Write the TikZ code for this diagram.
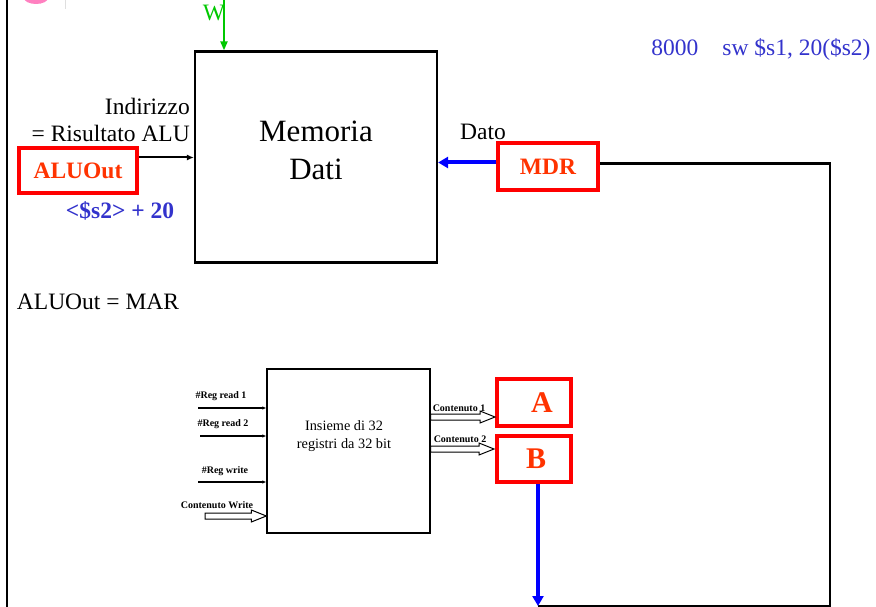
\documentclass[tikz,border=0pt]{standalone}
\usepackage{fontspec}
\setmainfont{Liberation Serif}
\usepackage{tikz}
\usetikzlibrary{arrows.meta, positioning, calc}
\definecolor{MDred}{HTML}{FF0000}
\definecolor{MDorange}{HTML}{FF3300}
\definecolor{MDblue}{HTML}{0000FF}
\definecolor{MDink}{HTML}{3333CC}
\definecolor{MDgreen}{HTML}{00C800}
\definecolor{MDpink}{HTML}{FF80C0}
\tikzset{
  memblk/.style={rectangle, draw=black, line width=2.2pt, fill=white, inner sep=0pt},
  regblk/.style={rectangle, draw=black, line width=1.4pt, fill=white, inner sep=0pt},
  redbox/.style={rectangle, draw=MDred, line width=3.5pt, fill=white, inner sep=0pt,
    text=MDorange, font=\fontsize{23.5}{26}\selectfont\bfseries},
  bigtxt/.style={inner sep=0pt, align=center, font=\fontsize{31}{38}\selectfont},
  txt/.style={inner sep=0pt, font=\fontsize{23.5}{27}\selectfont},
  bluetxt/.style={txt, text=MDink},
  regtxt/.style={inner sep=0pt, align=center, font=\fontsize{14.3}{18}\selectfont},
  smalltxt/.style={inner sep=0pt, font=\fontsize{10}{12}\selectfont\bfseries},
  lettxt/.style={inner sep=0pt, text=MDorange, font=\fontsize{30}{32}\selectfont\bfseries},
  wire/.style={line width=2.2pt, draw=black},
  blkarr/.style={-{Latex[length=7pt,width=6pt]}, line width=2pt, draw=black},
  bluearr/.style={-{Triangle[length=10pt,width=11pt]}, line width=4pt, draw=MDblue},
  grnarr/.style={-{Triangle[length=9pt,width=7pt]}, line width=2pt, draw=MDgreen},
  inarr/.style={-{Latex[length=4pt,width=3.5pt]}, line width=1.4pt, draw=black},
  hollowarr/.style={draw=black, line width=1pt, fill=white,
    to path={let \p1=(\tikztostart), \p2=(\tikztotarget) in
      (\x1,\y1+3pt) -- (\x2-15pt,\y1+3pt) -- (\x2-15pt,\y1+6pt) -- (\x2,\y1)
      -- (\x2-15pt,\y1-6pt) -- (\x2-15pt,\y1-3pt) -- (\x1,\y1-3pt) -- cycle}},
}
\begin{document}
\begin{tikzpicture}[x=1pt, y=-1pt]
  \useasboundingbox (0,0) rectangle (876,607);
  \begin{scope}
    \clip (0,0) rectangle (876,607);
    \fill[MDpink] (36,-2) ellipse [x radius=12pt, y radius=6pt];
  \end{scope}
  \draw[gray!25, line width=1pt] (65,0) -- (65,9);
  \draw[wire] (7,0) -- (7,607);

  \node[memblk, minimum width=242pt, minimum height=211pt] (mem) at (316,157) {};
  \node[bigtxt] (memtxt) at (316,150) {Memoria\\Dati};
  \node[txt, text=MDgreen] (wlbl) at (214,13) {W};
  \node[txt, align=right, anchor=east] (addr) at (190,120) {Indirizzo\\= Risultato ALU};
  \node[redbox, minimum width=118pt, minimum height=45pt] (aluout) at (78,170.5) {ALUOut};
  \node[bluetxt, font=\fontsize{23.5}{27}\selectfont\bfseries] (sum) at (120,211) {<\$s2> + 20};
  \node[txt] (dato) at (483,132) {Dato};
  \node[redbox, minimum width=100pt, minimum height=47pt] (mdr) at (548,166.5) {MDR};
  \node[bluetxt] (instr) at (761,49) {8000\hspace{24pt}sw \$s1, 20(\$s2)};
  \node[txt] (mar) at (98,302) {ALUOut = MAR};

  \node[regblk, minimum width=163pt, minimum height=164pt] (regs) at (348.5,451) {};
  \node[regtxt] (regtxt) at (344,436) {Insieme di 32\\registri da 32 bit};
  \node[redbox, minimum width=74pt, minimum height=47pt,
    label={[lettxt, xshift=8pt]center:A}] (ra) at (534,402.5) {};
  \node[redbox, minimum width=74pt, minimum height=46pt,
    label={[lettxt, xshift=2pt]center:B}] (rb) at (534,459) {};

  \node[smalltxt] (lr1) at (221,396) {\#Reg read 1};
  \node[smalltxt] (lr2) at (223,424) {\#Reg read 2};
  \node[smalltxt] (lw) at (225,471) {\#Reg write};
  \node[smalltxt] (lcw) at (217,505) {Contenuto Write};
  \node[smalltxt] (lc1) at (459,408) {Contenuto 1};
  \node[smalltxt] (lc2) at (460,439) {Contenuto 2};

  \coordinate (wtop) at (224,0);
  \coordinate (aa) at ([yshift=13pt]aluout.east);
  \coordinate (md) at ([yshift=4pt]mdr.west);
  \coordinate (corner) at (830,606);
  \coordinate (bb) at ([xshift=4pt]rb.south);
  \coordinate (r1) at (198,408);
  \coordinate (r2) at (200,436);
  \coordinate (rw) at (198,482);
  \coordinate (cw) at (205,516);
  \coordinate (c1) at (495,417);
  \coordinate (c2) at (494,449);

  \draw[grnarr] (wtop) -- (wtop |- mem.north);
  \draw[blkarr] (aa) -- (aa -| mem.west);
  \draw[bluearr] (md) -- (md -| mem.east);
  \draw[wire] ([yshift=3pt]mdr.east) -| (corner) -- (corner -| bb);
  \draw[bluearr] (bb) -- (corner -| bb);

  \draw[inarr] (r1) -- (r1 -| regs.west); \draw[inarr] (r2) -- (r2 -| regs.west);
  \draw[inarr] (rw) -- (rw -| regs.west);
  \path[hollowarr] (cw) to (cw -| regs.west);
  \path[hollowarr] (c1 -| regs.east) to (c1);
  \path[hollowarr] (c2 -| regs.east) to (c2);
\end{tikzpicture}
\end{document}
